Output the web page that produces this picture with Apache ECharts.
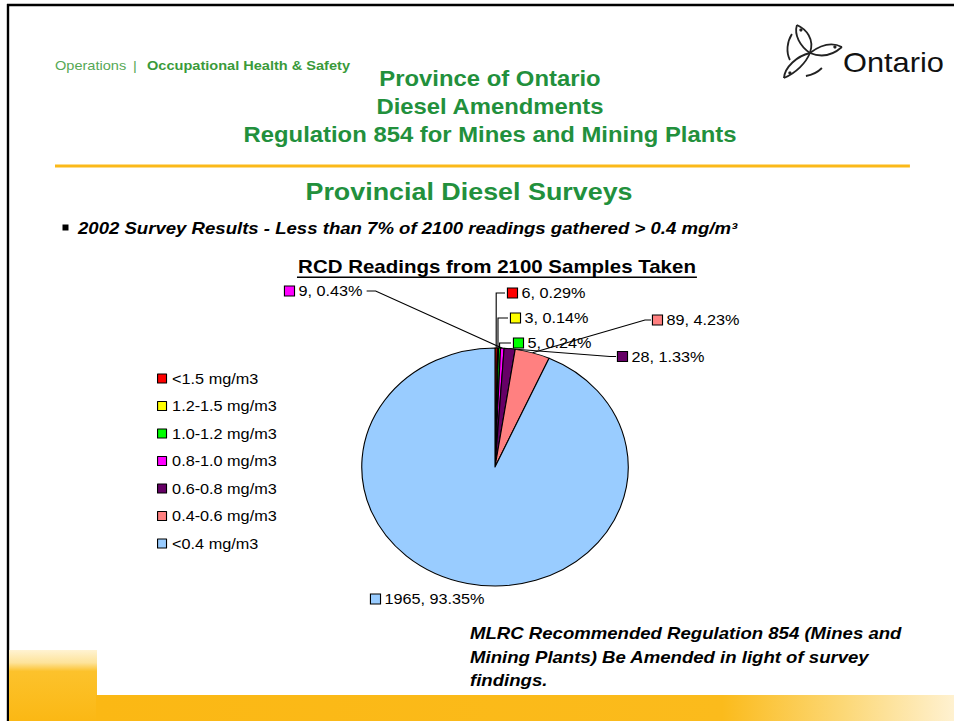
<!DOCTYPE html>
<html><head><meta charset="utf-8">
<script src="https://cdn.jsdelivr.net/npm/echarts@6/dist/echarts.min.js"></script>
<style>
html,body{margin:0;padding:0;background:#fff;overflow:hidden}
#wrap{width:954px;height:721px;overflow:hidden;position:relative;background:#fff}
#main{width:852px;height:721px;transform:scaleX(1.119718);transform-origin:0 0}
</style></head><body><div id="wrap"><div id="main"></div></div>
<script>
// ---- data ----
const categories = ['<1.5 mg/m3','1.2-1.5 mg/m3','1.0-1.2 mg/m3','0.8-1.0 mg/m3','0.6-0.8 mg/m3','0.4-0.6 mg/m3','<0.4 mg/m3'];
const readings = [6, 3, 5, 9, 28, 89, 1965];
const sliceColors = ['#ff0000','#ffff00','#00ff00','#ff00ff','#660066','#ff8080','#99ccff'];
const headerLines = ['Province of Ontario','Diesel Amendments','Regulation 854 for Mines and Mining Plants'];
const subTitle = 'Provincial Diesel Surveys';
const bulletText = '2002 Survey Results - Less than 7% of 2100 readings gathered > 0.4 mg/m\u00B3';
const chartTitle = 'RCD Readings from 2100 Samples Taken';
const footerLines = ['MLRC Recommended Regulation 854 (Mines and','Mining Plants) Be Amended in light of survey','findings.'];

// ---- layout (reference pixel space, stretched horizontally) ----
const S = 954 / 852;
const X = v => v / S;
const FONT = '"Liberation Sans", Arial, sans-serif';
const GREEN = '#22903c';
const labelPos = [
  {x: 508, y: 293, kind: 'elbow'},
  {x: 511, y: 318, kind: 'elbow'},
  {x: 514, y: 343, kind: 'elbow'},
  {x: 285, y: 291, kind: 'left'},
  {x: 618, y: 356.5, kind: 'right'},
  {x: 653, y: 320, kind: 'right'},
  {x: 371, y: 599, kind: 'none'}
];

const total = readings.reduce((a, b) => a + b, 0);
const rich = {t: {fontSize: 14.5, fontFamily: FONT, color: '#000', padding: [0, 0, 0, 4], lineHeight: 16}};
sliceColors.forEach((c, i) => {
  rich['s' + i] = {width: 8, height: 9, backgroundColor: c, borderColor: '#000', borderWidth: 1};
});

function txt(text, x, y, opt) {
  return {type: 'text', x: X(x), y: y, silent: true, style: Object.assign({
    text: text, fontFamily: FONT, fill: '#000', align: 'left', verticalAlign: 'middle'
  }, opt)};
}
function bz(a, c1, c2, b) {
  return {type: 'bezierCurve', shape: {x1: a[0], y1: a[1], cpx1: c1[0], cpy1: c1[1], cpx2: c2[0], cpy2: c2[1], x2: b[0], y2: b[1]},
    style: {fill: 'none', stroke: '#222', lineWidth: 1.8}};
}
const C0 = [810, 53];
const shapes = [
  {type: 'line', shape: {x1: 7, y1: 5, x2: 960, y2: 5}, style: {stroke: '#000', lineWidth: 2.6}},
  {type: 'line', shape: {x1: 8, y1: 4, x2: 8, y2: 721}, style: {stroke: '#000', lineWidth: 2.4}},
  {type: 'rect', shape: {x: 55, y: 164.5, width: 855, height: 3}, style: {fill: '#fbb919'}},
  {type: 'rect', shape: {x: 62.5, y: 224.5, width: 6, height: 6}, style: {fill: '#000'}},
  {type: 'rect', shape: {x: 297, y: 276.5, width: 400, height: 1.6}, style: {fill: '#000'}},
  {type: 'rect', shape: {x: 9, y: 650, width: 88, height: 71}, style: {fill: {type: 'linear', x: 0, y: 0, x2: 0, y2: 1, colorStops: [
    {offset: 0, color: '#fff3d2'}, {offset: 0.18, color: '#fde39a'}, {offset: 0.3, color: '#fcc22c'}, {offset: 1, color: '#fbb814'}]}}},
  {type: 'rect', shape: {x: 96, y: 695, width: 870, height: 26}, style: {fill: {type: 'linear', x: 0, y: 0, x2: 1, y2: 0, colorStops: [
    {offset: 0, color: '#fbb814'}, {offset: 0.72, color: '#fbbb1c'}, {offset: 0.86, color: '#fcd877'}, {offset: 1, color: '#fff4da'}]}}},
  // trillium logo
  bz(C0, [800, 46], [794, 35], [797, 25]), bz([797, 25], [806, 29], [815, 39], C0),
  bz(C0, [822, 44], [832, 42], [842, 47]), bz([842, 47], [833, 55], [822, 58], C0),
  bz(C0, [806, 63], [796, 73], [784, 78]), bz([784, 78], [785, 67], [797, 56], C0),
  bz([792, 34], [787, 42], [786, 52], [790, 60]), bz([822, 68], [818, 72], [812, 75], [806, 76]),
  {type: 'circle', shape: {cx: 801, cy: 30, r: 1.6}, style: {fill: '#222'}},
  {type: 'circle', shape: {cx: 835, cy: 47, r: 1.6}, style: {fill: '#222'}},
  {type: 'circle', shape: {cx: 790, cy: 73, r: 1.6}, style: {fill: '#222'}}
];

const texts = [
  txt('Operations', 55, 66, {fontSize: 13, fill: '#55a855'}),
  txt('|', 133, 66, {fontSize: 13, fill: '#55a855'}),
  txt('Occupational Health & Safety', 147, 66, {fontSize: 13, fontWeight: 'bold', fill: '#3a9a3a'}),
  txt('Ontario', 843, 62.5, {fontSize: 27.5, fill: '#111'}),
  txt(subTitle, 469, 191.5, {fontSize: 24, fontWeight: 'bold', fill: GREEN, align: 'center'}),
  txt(bulletText, 78, 228.5, {fontSize: 16.6, fontWeight: 'bold', fontStyle: 'italic'}),
  txt(chartTitle, 497, 266, {fontSize: 18.3, fontWeight: 'bold', align: 'center'})
];
const headerY = [78.5, 106.5, 134.5];
headerLines.forEach((l, i) => texts.push(txt(l, 490, headerY[i], {fontSize: 21.3, fontWeight: 'bold', fill: GREEN, align: 'center'})));
const footerY = [633.5, 657, 680.5];
footerLines.forEach((l, i) => texts.push(txt(l, 470, footerY[i], {fontSize: 16.6, fontWeight: 'bold', fontStyle: 'italic'})));

const chart = echarts.init(document.getElementById('main'), null, {renderer: 'svg', width: 852, height: 721});
chart.setOption({
  animation: false,
  backgroundColor: '#fff',
  legend: {
    orient: 'vertical', left: X(157), top: 371, padding: 0,
    itemWidth: 8, itemHeight: 9, itemGap: 12.5, icon: 'rect',
    selectedMode: false,
    itemStyle: {borderColor: '#000', borderWidth: 1},
    textStyle: {fontSize: 14.5, fontFamily: FONT, color: '#000', lineHeight: 14},
    data: categories
  },
  graphic: [
    {type: 'group', scaleX: 1 / S, silent: true, children: shapes},
    {type: 'group', silent: true, children: texts}
  ],
  series: [{
    type: 'pie',
    center: [X(495), 467],
    radius: 119,
    startAngle: 90,
    clockwise: true,
    avoidLabelOverlap: false,
    silent: true,
    emphasis: {disabled: true},
    itemStyle: {borderColor: '#000', borderWidth: 1},
    label: {
      show: true, position: 'outside', rich: rich,
      formatter: p => '{s' + p.dataIndex + '|}{t|' + p.value + ', ' + (p.value / total * 100).toFixed(2) + '%}'
    },
    labelLine: {show: true, length: 10, length2: 10, lineStyle: {color: '#000', width: 1}},
    labelLayout: function (p) {
      const L = labelPos[p.dataIndex];
      const x = X(L.x), y = L.y;
      const pts = p.labelLinePoints;
      const E = pts && pts[0];
      const w = p.labelRect.width;
      const r = {x: x, y: y, align: 'left', verticalAlign: 'middle', hideOverlap: false};
      if (E) {
        if (L.kind === 'elbow') r.labelLinePoints = [E, [E[0], y], [x - X(3), y]];
        else if (L.kind === 'left') r.labelLinePoints = [E, [x + w + X(12), y], [x + w + X(3), y]];
        else if (L.kind === 'right') r.labelLinePoints = [E, [x - X(8), y], [x - X(2), y]];
      }
      return r;
    },
    data: categories.map((n, i) => ({
      name: n, value: readings[i], itemStyle: {color: sliceColors[i]},
      labelLine: {show: labelPos[i].kind !== 'none'}
    }))
  }]
});
</script></body></html>
